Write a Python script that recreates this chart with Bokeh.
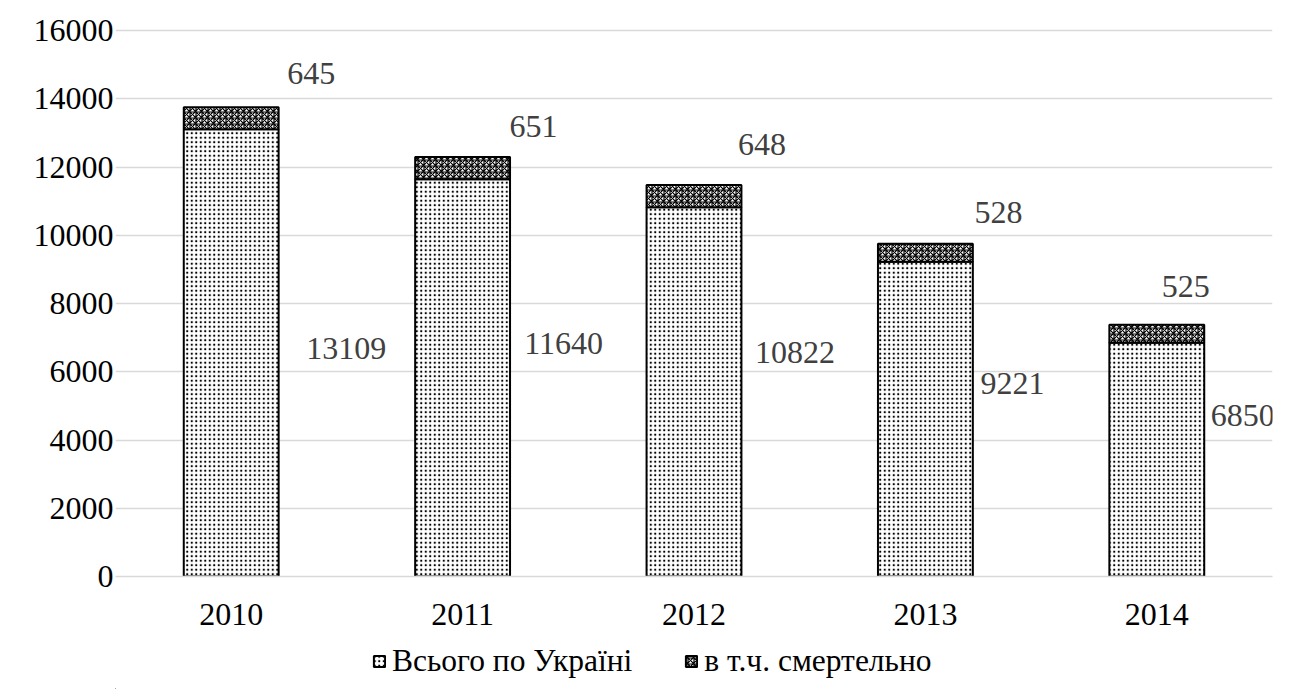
from bokeh.plotting import figure
from bokeh.layouts import column
from bokeh.models import ColumnDataSource, Legend, LegendItem, FactorRange
from bokeh.core.properties import value
from bokeh.embed import file_html
from bokeh.resources import INLINE

# Data
years = ["2010", "2011", "2012", "2013", "2014"]
total_ukraine = [13109, 11640, 10822, 9221, 6850]
fatal = [645, 651, 648, 528, 525]
series_names = ["Всього по Україні", "в т.ч. смертельно"]
y_ticks = [0, 2000, 4000, 6000, 8000, 10000, 12000, 14000, 16000]

FONT = "Liberation Serif"
FS = "32px"
PATTERNS = ["dot", "criss_cross"]
SCALES = [4.5, 6]
WEIGHTS = [2.2, 1.2]

source = ColumnDataSource(data=dict(
    year=years,
    total=total_ukraine,
    fatal=fatal,
))

# frame is 2px taller than the 0..16000 span so the top gridline stays visible
p = figure(
    x_range=FactorRange(*years, range_padding=0.0),
    y_range=(0, 16000 * 548 / 546),
    frame_width=1157, frame_height=548,
    output_backend="svg", toolbar_location=None,
    min_border_left=115, min_border_right=17,
    min_border_top=28, min_border_bottom=64,
    background_fill_color="white", border_fill_color="white",
)
p.outline_line_color = None

renderers = p.vbar_stack(
    ["total", "fatal"], x="year", width=0.41, source=source,
    fill_color="white", line_color="black", line_width=2,
    hatch_color="black",
    hatch_pattern=PATTERNS, hatch_scale=SCALES, hatch_weight=WEIGHTS,
)

# Value labels (offsets in screen pixels from the segment anchor)
top_labels = ColumnDataSource(data=dict(
    year=years,
    y=[t + f for t, f in zip(total_ukraine, fatal)],
    text=[str(v) for v in fatal],
    dx=[80, 71, 68, 73, 29],
    dy=[-34, -31, -41, -31, -38],
))
bottom_labels = ColumnDataSource(data=dict(
    year=years,
    y=[t / 2 for t in total_ukraine],
    text=[str(v) for v in total_ukraine],
    dx=[115, 101, 101, 87, 86],
    dy=[-4, -34, -39, -36, -44],
))
for src in (top_labels, bottom_labels):
    p.text(x="year", y="y", text="text", source=src,
           x_offset="dx", y_offset="dy",
           text_font=value(FONT), text_font_size=FS,
           text_color="#404040", text_align="center", text_baseline="middle")

# Axes
p.yaxis.ticker = y_ticks
p.yaxis.axis_line_color = None
p.yaxis.major_tick_line_color = None
p.yaxis.minor_tick_line_color = None
p.yaxis.major_tick_out = 0
p.yaxis.major_label_standoff = 2
p.yaxis.major_label_text_font = FONT
p.yaxis.major_label_text_font_size = FS
p.yaxis.major_label_text_color = "#000000"

p.xaxis.axis_line_color = "#d9d9d9"
p.xaxis.axis_line_width = 1.5
p.xaxis.major_tick_line_color = None
p.xaxis.minor_tick_line_color = None
p.xaxis.major_tick_out = 0
p.xaxis.major_label_standoff = 27
p.xaxis.major_label_text_font = FONT
p.xaxis.major_label_text_font_size = FS
p.xaxis.major_label_text_color = "#000000"

p.xgrid.grid_line_color = None
p.ygrid.grid_line_color = "#d9d9d9"
p.ygrid.grid_line_width = 1.5

# Legend strip under the chart; its swatch renderers sit far outside the visible range
leg_fig = figure(
    width=1289, height=49, x_range=(0, 1), y_range=(0, 1),
    output_backend="svg", toolbar_location=None,
    x_axis_location=None, y_axis_location=None,
    min_border=0, background_fill_color="white", border_fill_color="white",
)
leg_fig.outline_line_color = None
leg_fig.grid.visible = False
swatch_src = ColumnDataSource(data=dict(x=[-50], top=[-50], bottom=[-60]))
swatches = [
    leg_fig.vbar(x="x", top="top", bottom="bottom", width=0.1, source=swatch_src,
                 fill_color="white", line_color="black", line_width=2,
                 hatch_color="black", hatch_pattern=PATTERNS[i],
                 hatch_scale=SCALES[i], hatch_weight=WEIGHTS[i])
    for i in range(2)
]
legend = Legend(
    items=[LegendItem(label=series_names[i], renderers=[swatches[i]]) for i in range(2)],
    orientation="horizontal", location=(257, 10),
    label_text_font=FONT, label_text_font_size="31.5px", label_text_color="#000000",
    glyph_width=14, glyph_height=14, spacing=52, label_standoff=6,
    border_line_color=None, background_fill_alpha=0,
    margin=0, padding=0,
)
leg_fig.add_layout(legend)

layout = column(p, leg_fig, spacing=0)
open("out.html", "w").write(file_html(layout, INLINE))
